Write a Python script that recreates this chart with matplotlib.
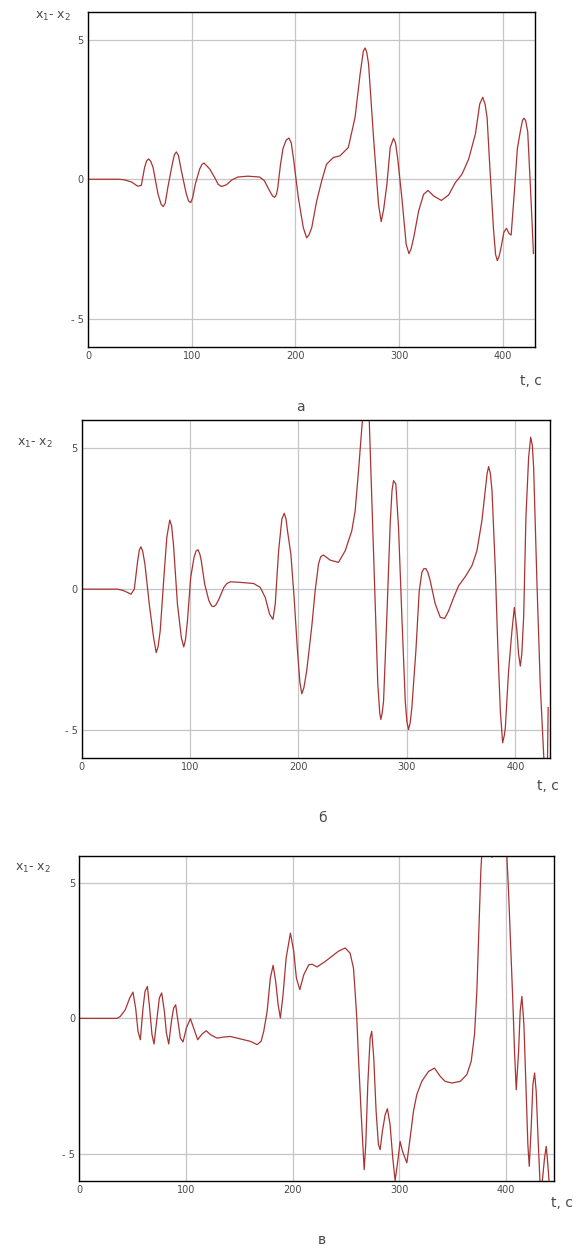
import matplotlib
matplotlib.use('Agg')
import matplotlib.pyplot as plt


# ------------------------------------------------------------------------------
# x1 - x2 versus time, three runs (а, б, в)
#
ta = [0, 30, 35, 42, 48, 51.4, 54.6, 56.5, 58.5, 60.5, 62.7, 67.5, 70.5, 72.6,
      74.5, 77, 81.3, 83.3, 85.2, 87.2, 90, 94.8, 97, 99, 101, 103.5, 107.7,
      110, 111.9, 114, 117.3, 122, 125.5, 128.6, 133.4, 138.9, 144.6, 154,
      165.5, 170, 175, 178, 180, 181.7, 183, 185.5, 188, 191, 193.8, 196, 198,
      202.8, 207.6, 210.8, 213, 215.7, 220.5, 225.3, 230, 236.6, 243, 251,
      257.5, 262.4, 265.5, 267.2, 268.8, 270.5, 275.3, 280.1, 282.7, 285,
      288.2, 291.4, 294.6, 296.5, 298.5, 302.6, 306.8, 309.5, 311.5, 314,
      318.8, 323.6, 327.8, 333.3, 340.7, 347.8, 354.2, 360.6, 367, 373.5,
      377.7, 380.6, 382.8, 384.8, 387.3, 391, 393, 394.7, 396.5, 398, 401,
      403.5, 406, 408, 411, 414, 417, 419, 420.5, 422, 424, 427, 429.5]
xa = [0, 0, -0.02, -0.1, -0.25, -0.22, 0.43, 0.66, 0.73, 0.64, 0.43, -0.53,
      -0.9, -0.98, -0.85, -0.29, 0.55, 0.88, 0.98, 0.85, 0.31, -0.53, -0.78,
      -0.84, -0.65, -0.17, 0.37, 0.54, 0.58, 0.5, 0.37, 0.07, -0.18, -0.26,
      -0.2, -0.02, 0.08, 0.11, 0.08, -0.05, -0.41, -0.6, -0.65, -0.55, -0.3,
      0.5, 1.1, 1.4, 1.48, 1.3, 0.78, -0.66, -1.74, -2.1, -2.0, -1.74, -0.78,
      -0.06, 0.54, 0.78, 0.84, 1.14, 2.22, 3.78, 4.6, 4.71, 4.55, 4.14, 1.5,
      -0.9, -1.52, -1.1, -0.18, 1.14, 1.47, 1.3, 0.78, -0.66, -2.34, -2.67,
      -2.5, -2.1, -1.14, -0.54, -0.4, -0.6, -0.76, -0.56, -0.12, 0.18, 0.72,
      1.62, 2.7, 2.94, 2.7, 2.22, 0.54, -1.8, -2.7, -2.92, -2.75, -2.5, -1.9,
      -1.76, -1.95, -2.0, -0.5, 1.1, 1.75, 2.12, 2.19, 2.1, 1.7, -0.6, -2.66]

tb = [0, 33.3, 37.9, 42.5, 45.6, 48.6, 51.7, 53.3, 54.7, 56.3, 58.4, 62.4,
      66.4, 68.8, 70.5, 72.5, 76.1, 78.6, 81.3, 83, 84.7, 88.4, 92, 94.2, 95.8,
      97.6, 100.6, 103.7, 105.5, 107.3, 109, 110.4, 113.5, 117.4, 120, 122,
      124, 126.6, 131.2, 134, 137.3, 146.5, 158.7, 164.8, 169.4, 173.4, 176.5,
      178.6, 181.7, 184.7, 186.9, 188.5, 189.9, 193, 196, 199.1, 201.3, 203.1,
      205, 207.6, 212.2, 215.4, 218.5, 220.5, 223.1, 229.2, 236.9, 243.1,
      249.2, 252.3, 255.4, 258.5, 260, 262.5, 265.2, 267.7, 270.8, 273.2, 275,
      276, 277.2, 278.5, 281.5, 284.6, 286.3, 287.7, 289.8, 292.3, 295.4,
      298.5, 300, 301.5, 303, 304.6, 308.3, 311.4, 313.8, 315.5, 317.5, 319.5,
      321.5, 326.2, 330.8, 334.8, 338.5, 343.1, 347.7, 353.8, 360, 364.6,
      369.2, 372.3, 374, 375.4, 377, 378.5, 381.5, 384, 386.2, 388.3, 389.8,
      390.8, 393.8, 396.9, 399.1, 401.5, 403, 404.6, 406, 407.7, 409.8, 412.3,
      414.2, 415.7, 416.9, 420, 423, 426.2, 427.5, 429.5, 430.3]
xb = [0, 0, -0.04, -0.12, -0.18, 0, 1.0, 1.4, 1.5, 1.35, 0.89, -0.53, -1.72,
      -2.25, -2.05, -1.48, 0.53, 1.84, 2.45, 2.25, 1.6, -0.53, -1.72, -2.05,
      -1.8, -1.13, 0.41, 1.13, 1.35, 1.4, 1.25, 1.0, 0.18, -0.41, -0.6, -0.62,
      -0.55, -0.36, 0.06, 0.2, 0.26, 0.24, 0.2, 0.06, -0.3, -0.89, -1.07,
      -0.53, 1.36, 2.49, 2.69, 2.5, 2.07, 1.24, -0.3, -2.19, -3.3, -3.71, -3.5,
      -2.9, -1.36, -0.06, 0.89, 1.15, 1.21, 1.03, 0.95, 1.36, 2.07, 2.78, 4.2,
      5.75, 6.4, 6.8, 6.1, 3.14, -0.53, -3.38, -4.4, -4.62, -4.4, -3.97, -1.0,
      2.31, 3.5, 3.85, 3.73, 2.19, -1.0, -3.97, -4.7, -4.98, -4.75, -4.2,
      -2.19, -0.06, 0.59, 0.72, 0.73, 0.58, 0.3, -0.53, -1.0, -1.04, -0.77,
      -0.3, 0.12, 0.44, 0.83, 1.36, 2.43, 3.5, 4.1, 4.35, 4.1, 3.5, 0.77,
      -2.19, -4.32, -5.45, -5.2, -4.92, -2.9, -1.48, -0.65, -1.48, -2.3, -2.73,
      -2.3, -1.0, 2.55, 4.68, 5.39, 5.1, 4.32, 0.18, -3.38, -5.9, -6.8, -6.6,
      -4.2]

tc = [0, 35.3, 38.4, 43.1, 47.2, 50.3, 52.8, 55, 57.2, 59.7, 61.6, 63.8, 65.9,
      68.1, 70, 72.8, 75, 77.2, 79.7, 81.6, 83.8, 86.3, 88.4, 90.3, 92.5, 94.7,
      97.2, 100.3, 104.1, 107.2, 110.9, 115, 119, 122.8, 129, 135.3, 141.6,
      147.8, 154, 160.3, 166.6, 170.3, 172.8, 176, 179, 181.6, 184, 186.3,
      188.4, 190.9, 193.8, 197.8, 200.9, 203.4, 206.6, 210.3, 215, 218.1,
      222.8, 230.3, 236.6, 242.8, 249.1, 253.7, 256.9, 258.4, 260, 261.6, 264,
      265.3, 266.9, 268.4, 270.3, 272.5, 274, 275.9, 278.1, 280.3, 281.9, 284,
      286.6, 288.7, 291.2, 293.7, 295.9, 298.4, 300.6, 302.8, 306.9, 310,
      313.1, 316.2, 320.9, 327.2, 332.8, 338.1, 342.8, 349.1, 356.9, 363.1,
      367.2, 370.3, 372.5, 374.7, 376.2, 377.2, 380, 383, 386.5, 390, 395,
      398.5, 400.6, 402.2, 404.4, 406.2, 407.8, 409.4, 411.6, 413.1, 414.7,
      416.6, 418.4, 420.3, 421.6, 423.4, 425, 426.6, 428.1, 429.7, 431.6,
      433.4, 435.9, 437.5, 439, 440.3, 442]
xc = [0, 0, 0.07, 0.32, 0.75, 0.97, 0.38, -0.48, -0.79, 0.38, 1.0, 1.18, 0.38,
      -0.6, -0.95, 0.01, 0.75, 0.94, 0.26, -0.54, -0.95, -0.11, 0.38, 0.5,
      -0.11, -0.73, -0.87, -0.36, -0.01, -0.36, -0.79, -0.58, -0.46, -0.6,
      -0.73, -0.69, -0.67, -0.73, -0.79, -0.85, -0.97, -0.85, -0.48, 0.26,
      1.49, 1.96, 1.37, 0.5, 0.01, 0.87, 2.23, 3.15, 2.48, 1.49, 1.06, 1.61,
      1.98, 2.0, 1.9, 2.1, 2.29, 2.48, 2.6, 2.41, 1.86, 1.0, 0.01, -1.47,
      -3.44, -4.42, -5.59, -4.67, -2.45, -0.73, -0.48, -1.47, -3.44, -4.67,
      -4.85, -4.17, -3.56, -3.34, -3.93, -5.16, -6.0, -5.28, -4.55, -4.91,
      -5.34, -4.42, -3.44, -2.82, -2.33, -1.96, -1.84, -2.14, -2.33, -2.39,
      -2.33, -2.08, -1.59, -0.6, 1.0, 3.71, 5.43, 6.1, 7.0, 6.5, 5.95, 6.6,
      6.8, 6.5, 6.0, 4.69, 2.48, 0.63, -1.22, -2.64, -1.22, 0.26, 0.81, -0.23,
      -2.45, -4.67, -5.47, -4.05, -2.45, -2.02, -2.7, -4.3, -6.0, -6.2, -5.16,
      -4.73, -5.4, -6.1, -6.6]

captions = [u'а', u'б', u'в']
x_ticks  = [0, 100, 200, 300, 400]
y_ticks  = [-5, 0, 5]
y_labels = ['- 5', '0', '5']
t_max    = [431, 432, 444.5]

line_color = '#a83434'
text_color = '#4a4a4a'

W, H = 576.0, 1254.0


def fx(px):
    return px / W


def fy(py):
    return 1.0 - py / H


# ------------------------------------------------------------------------------
#
if __name__ == '__main__':

    plt.rcParams['font.family'] = ['DejaVu Sans']

    fig = plt.figure(figsize=(5.76, 12.54), dpi=100)

    # axes boxes in pixels: left, top, right, bottom
    boxes   = [(88, 12, 535, 346.5),
               (81.6, 420, 550, 758.3),
               (79.3, 856, 553.7, 1180.7)]
    ylab_at = [(35, 16), (17, 443), (15, 868)]
    tlab_at = [(531, 381), (548, 786), (562, 1203)]
    cap_at  = [(300, 407), (322, 818), (322, 1240)]

    series = [(ta, xa), (tb, xb), (tc, xc)]

    for i, (t, x) in enumerate(series):

        l, tp, r, b = boxes[i]
        ax = fig.add_axes([fx(l), fy(b), fx(r - l), (b - tp) / H])
        ax.plot(t, x, color=line_color, lw=0.9)

        ax.set_xlim(0, t_max[i])
        ax.set_ylim(-6, 6)
        ax.set_xticks(x_ticks)
        ax.set_yticks(y_ticks)
        ax.set_yticklabels(y_labels)
        ax.tick_params(length=0, pad=3, labelsize=7, colors=text_color)
        ax.grid(True, color='#c6c6c6', lw=0.9)
        for sp in ax.spines.values():
            sp.set_color('black')
            sp.set_linewidth(1.0)

        px, py = ylab_at[i]
        fig.text(fx(px), fy(py), r'x$_{\rm 1}$- x$_{\rm 2}$', fontsize=9,
                 color=text_color, ha='left', va='center')
        px, py = tlab_at[i]
        fig.text(fx(px), fy(py), 't, c', fontsize=10, color=text_color,
                 ha='center', va='center')
        px, py = cap_at[i]
        fig.text(fx(px), fy(py), captions[i], fontsize=10, color=text_color,
                 ha='center', va='center')

    fig.savefig('out.png', dpi=100, facecolor='white')


# ------------------------------------------------------------------------------
